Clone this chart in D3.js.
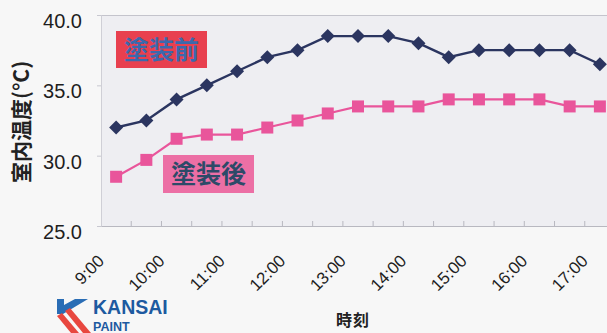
<!DOCTYPE html>
<html>
<head>
<meta charset="utf-8">
<script src="https://cdn.jsdelivr.net/npm/d3@7"></script>
<style>
  html, body { margin: 0; padding: 0; background: #f7f7f7; }
  svg { display: block; }
</style>
</head>
<body>
<svg id="chart" width="607" height="333"></svg>
<script>
// Time of day, every 30 minutes
const times = ["9:00","9:30","10:00","10:30","11:00","11:30","12:00","12:30","13:00",
               "13:30","14:00","14:30","15:00","15:30","16:00","16:30","17:00"];
// Indoor temperature before coating (°C)
const beforeTemps = [32.0,32.5,34.0,35.0,36.0,37.0,37.5,38.5,38.5,38.5,38.0,37.0,37.5,37.5,37.5,37.5,36.5];
// Indoor temperature after coating (°C)
const afterTemps  = [28.5,29.7,31.2,31.5,31.5,32.0,32.5,33.0,33.5,33.5,33.5,34.0,34.0,34.0,34.0,33.5,33.5];
// Y axis tick values
const yTicks = [25, 30, 35, 40];
// Hour labels shown on the x axis
const hourLabels = ["9:00","10:00","11:00","12:00","13:00","14:00","15:00","16:00","17:00"];

const svg = d3.select("#chart");
const plot = { left: 101, top: 15, right: 615, bottom: 226 };

const x = d3.scaleBand().domain(times).range([plot.left, plot.right]);
const cx = d => x(d) + x.bandwidth() / 2;
const y = d3.scaleLinear().domain([25, 40]).range([plot.bottom, plot.top]);

// plot background
svg.append("rect")
  .attr("x", plot.left).attr("y", plot.top)
  .attr("width", plot.right - plot.left).attr("height", plot.bottom - plot.top)
  .attr("fill", "#eeeef2");

// top border
svg.append("line")
  .attr("x1", plot.left).attr("x2", plot.right)
  .attr("y1", plot.top + 0.5).attr("y2", plot.top + 0.5)
  .attr("stroke", "#c4c4cc").attr("stroke-width", 1);

// y axis
const yAxis = svg.append("g")
  .attr("transform", `translate(${plot.left},0)`)
  .call(d3.axisLeft(y).tickValues(yTicks).tickFormat(d3.format(".1f")).tickSize(4).tickPadding(15));
yAxis.select(".domain").attr("stroke", "#cfcfd6");
yAxis.selectAll(".tick line").attr("stroke", "#c8c8d0");
yAxis.selectAll(".tick text")
  .attr("font-family", "'Liberation Sans', Arial, sans-serif")
  .attr("font-size", 20).attr("fill", "#1e1e1e").attr("dy", "0.62em");

// x axis: ticks between the half-hour slots, labels on the hour
const xAxis = svg.append("g")
  .attr("transform", `translate(0,${plot.bottom})`)
  .call(d3.axisBottom(x).tickSize(0).tickFormat(""));
xAxis.select(".domain").attr("stroke", "#b8b8c0");
xAxis.selectAll(".tick").remove();
const boundaries = times.slice(1).map(t => x(t));
xAxis.selectAll("line.sep").data(boundaries).join("line")
  .attr("class", "sep")
  .attr("x1", d => d).attr("x2", d => d)
  .attr("y1", 0).attr("y2", -5)
  .attr("stroke", "#b8b8c0");

svg.append("g").selectAll("text").data(hourLabels).join("text")
  .attr("transform", d => `translate(${cx(d) - 11},${plot.bottom + 36}) rotate(-45)`)
  .attr("text-anchor", "end")
  .attr("font-family", "'Liberation Sans', Arial, sans-serif")
  .attr("font-size", 17).attr("fill", "#1e1e1e")
  .text(d => d);

// axis titles
svg.append("text")
  .attr("transform", "translate(29,122) rotate(-90)")
  .attr("text-anchor", "middle")
  .attr("font-family", "'Noto Sans CJK JP', sans-serif")
  .attr("font-weight", 700).attr("font-size", 21).attr("fill", "#222")
  .text("室内温度(°C)");

svg.append("text")
  .attr("x", 353).attr("y", 326)
  .attr("text-anchor", "middle")
  .attr("font-family", "'Noto Sans CJK JP', sans-serif")
  .attr("font-weight", 700).attr("font-size", 16).attr("fill", "#222")
  .attr("letter-spacing", 1)
  .text("時刻");

// series lines and markers
const line = d3.line().x((d, i) => cx(times[i])).y(d => y(d));

const navy = "#2b3560";
const pink = "#e9559b";

svg.append("path").datum(afterTemps)
  .attr("d", line).attr("fill", "none")
  .attr("stroke", pink).attr("stroke-width", 2.2);
svg.append("g").selectAll("rect").data(afterTemps).join("rect")
  .attr("x", (d, i) => cx(times[i]) - 6).attr("y", d => y(d) - 6)
  .attr("width", 12).attr("height", 12)
  .attr("fill", pink);

svg.append("path").datum(beforeTemps)
  .attr("d", line).attr("fill", "none")
  .attr("stroke", navy).attr("stroke-width", 2.4);
svg.append("g").selectAll("path").data(beforeTemps).join("path")
  .attr("transform", (d, i) => `translate(${cx(times[i])},${y(d)})`)
  .attr("d", "M0,-7L7,0L0,7L-7,0Z")
  .attr("fill", navy);

// series name boxes
const boxes = [
  { label: "塗装前", x: 116, y: 31, w: 91, h: 37, fill: "#e8404f", color: "#3b69ad" },
  { label: "塗装後", x: 163, y: 155, w: 91, h: 38, fill: "#ec6fa5", color: "#2d4a68" }
];
const bg = svg.append("g").selectAll("g").data(boxes).join("g");
bg.append("rect")
  .attr("x", d => d.x).attr("y", d => d.y)
  .attr("width", d => d.w).attr("height", d => d.h)
  .attr("fill", d => d.fill);
bg.append("text")
  .attr("x", d => d.x + d.w / 2).attr("y", d => d.y + d.h / 2 + 9)
  .attr("text-anchor", "middle")
  .attr("font-family", "'Noto Sans CJK JP', sans-serif")
  .attr("font-weight", 700).attr("font-size", 25)
  .attr("fill", d => d.color)
  .text(d => d.label);

// company mark
const logo = svg.append("g");
logo.append("path")
  .attr("d", "M57,299L64,299L64,305L75,299L88,299L63,314L57,314Z")
  .attr("fill", "#2a6db5");
logo.append("path")
  .attr("d", "M57,316L62,313L79,333L71,333Z")
  .attr("fill", "#e8473f");
logo.append("path")
  .attr("d", "M65,311L70,308L91,333L83,333Z")
  .attr("fill", "#e8473f");
logo.append("text")
  .attr("x", 93).attr("y", 314)
  .attr("font-family", "'Liberation Sans', Arial, sans-serif")
  .attr("font-weight", 700).attr("font-size", 19.5).attr("fill", "#1d5aa0")
  .text("KANSAI");
logo.append("text")
  .attr("x", 93).attr("y", 331)
  .attr("font-family", "'Liberation Sans', Arial, sans-serif")
  .attr("font-weight", 700).attr("font-size", 12.5).attr("fill", "#1d5aa0")
  .text("PAINT");
</script>
</body>
</html>
